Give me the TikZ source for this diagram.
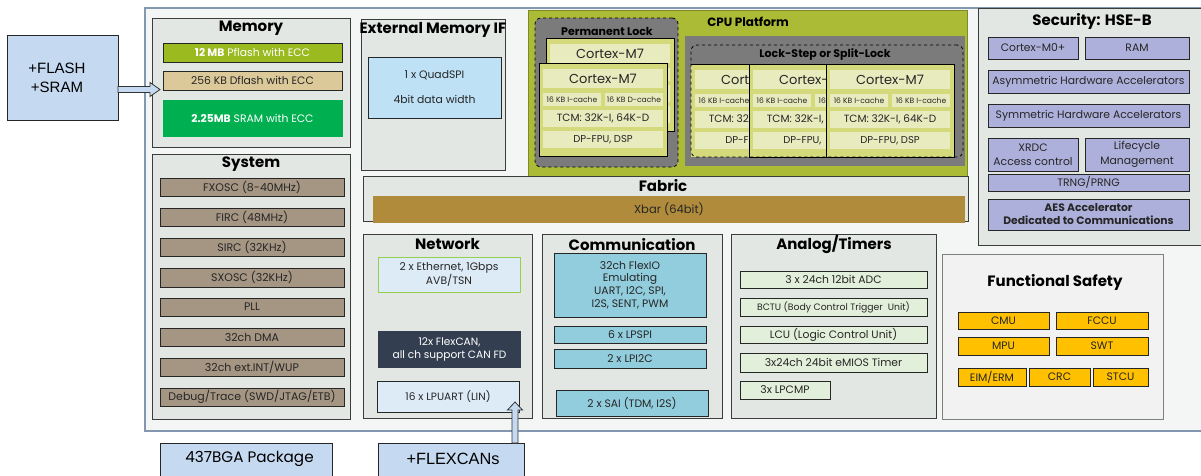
\documentclass[tikz,border=0pt]{standalone}
\usepackage{fontspec}
\setmainfont{Poppins}
\newfontfamily\arialf{Liberation Sans}
\usetikzlibrary{calc}
\definecolor{outerline}{HTML}{8497B0}
\definecolor{outerfill}{HTML}{F4F6F5}
\definecolor{secfill}{HTML}{E3E7E4}
\definecolor{secline}{HTML}{3C3C3C}
\definecolor{txt}{HTML}{262626}
\definecolor{pkg}{HTML}{C5D9F1}
\definecolor{pflash}{HTML}{9BBA1F}
\definecolor{dflash}{HTML}{DCC999}
\definecolor{sramc}{HTML}{00B050}
\definecolor{sysc}{HTML}{A59583}
\definecolor{qspic}{HTML}{BEE1F6}
\definecolor{cpuc}{HTML}{ACBB36}
\definecolor{cpuline}{HTML}{7E8A26}
\definecolor{grp}{HTML}{7B7B7B}
\definecolor{cardc}{HTML}{D4DA7C}
\definecolor{bandc}{HTML}{E8EBBD}
\definecolor{xbarc}{HTML}{AF8B3B}
\definecolor{lblue}{HTML}{DDEBF7}
\definecolor{ethline}{HTML}{92D050}
\definecolor{canc}{HTML}{333F50}
\definecolor{commc}{HTML}{92CDDD}
\definecolor{anac}{HTML}{E2EFDA}
\definecolor{fsfill}{HTML}{F2F2F2}
\definecolor{fsline}{HTML}{7F7F7F}
\definecolor{amber}{HTML}{FFC000}
\definecolor{lav}{HTML}{ADB0DB}
\newcommand\fs[2]{\fontsize{#1}{#2}\selectfont}
\newcommand\cut[2]{\rlap{#1}\phantom{#2}}
\newcommand\bx[7]{\node[bxbase,#6,minimum width={(#4)-(#2)},minimum height={(#5)-(#3)}] (#1) at ({((#2)+(#4))/2},{((#3)+(#5))/2}) {#7};}
% name, x, y, card style, cortex, cache1, cache2, tcm, dp
\newcommand\card[9]{%
\bx{#1}{#2}{#3}{(#2)+128}{(#3)+93}{fill=cardc,#4}{}
\bx{#1a}{(#2)+4}{(#3)+6}{(#2)+124}{(#3)+25}{band,font=\fs{13}{14}}{#5}
\bx{#1b}{(#2)+4}{(#3)+30}{(#2)+62}{(#3)+43}{band,font=\fs{7.6}{8}}{#6}
\bx{#1c}{(#2)+66}{(#3)+30}{(#2)+124}{(#3)+43}{band,font=\fs{7.6}{8}}{#7}
\bx{#1d}{(#2)+4}{(#3)+47}{(#2)+124}{(#3)+64}{band,font=\fs{10.5}{11}}{#8}
\bx{#1e}{(#2)+4}{(#3)+68}{(#2)+124}{(#3)+85}{band,font=\fs{10}{11}}{#9}
}
\begin{document}
\begin{tikzpicture}[x=1pt,y=-1pt,
  bxbase/.style={inner sep=0pt,outer sep=0pt,align=center,text=txt,font=\fs{10.8}{13}},
  sec/.style={draw=secline,fill=secfill,line width=1pt},
  itm/.style={draw=black!85,line width=0.9pt},
  sysi/.style={itm,fill=sysc,font=\fs{11}{13}},
  band/.style={fill=bandc,draw=none},
  ttl/.style={inner sep=0pt,text=black,font=\bfseries\fs{15}{17}},
  blk/.style={fill=pkg,draw=black!80,line width=0.8pt,line join=miter}]
\clip (0,0) rectangle (1201,475);
\fill[white] (0,0) rectangle (1201,475);
% chip outline
\bx{chip}{145}{8}{1215}{431}{draw=outerline,fill=outerfill,line width=1.6pt}{}
% external boxes
\bx{flash}{7}{35}{118}{120}{itm,fill=pkg}{}
\node[inner sep=0pt,align=center,font=\arialf\fs{15}{19}] (flasht) at (57,78) {+FLASH\\+SRAM};
\bx{bga}{160}{443}{332}{490}{itm,fill=pkg}{}
\node[inner sep=0pt,font=\fs{15.2}{17}] (bgat) at (249.5,459) {437BGA Package};
\bx{fcan}{378}{443}{524}{490}{itm,fill=pkg}{}
\node[inner sep=0pt,font=\arialf\fs{16.3}{18}] (fcant) at (453,459) {+FLEXCANs};
% Memory
\bx{mem}{152}{18}{350}{147}{sec}{}
\node[ttl] (memt) at (251,28) {Memory};
\bx{pfl}{163}{43}{342}{62}{itm,fill=pflash,text=white}{\textbf{12 MB} Pflash with ECC}
\bx{dfl}{163}{71}{342}{90}{itm,fill=dflash}{256 KB Dflash with ECC}
\bx{sram}{163}{100}{342}{136}{draw=sramc,fill=sramc,text=white}{\textbf{2.25MB} SRAM with ECC}
% System
\bx{sys}{152}{154}{350}{419}{sec}{}
\node[ttl] (syst) at (251,164) {System};
\bx{s1}{160}{178}{344}{196}{sysi}{FXOSC (8-40MHz)}
\bx{s2}{160}{208}{344}{226}{sysi}{FIRC (48MHz)}
\bx{s3}{160}{238}{344}{256}{sysi}{SIRC (32KHz)}
\bx{s4}{160}{268}{344}{287}{sysi}{SXOSC (32KHz)}
\bx{s5}{160}{298}{344}{316}{sysi}{PLL}
\bx{s6}{160}{328}{344}{346}{sysi}{32ch DMA}
\bx{s7}{160}{358}{344}{376}{sysi}{32ch ext.INT/WUP}
\bx{s8}{160}{388}{344}{406}{sysi}{Debug/Trace (SWD/JTAG/ETB)}
% External memory IF
\bx{emif}{361}{19}{505}{170}{sec}{}
\node[ttl] (emift) at (433,30) {External Memory IF};
\bx{qspi}{368}{57}{501}{118}{itm,fill=qspic,font=\fs{10.8}{25}}{1 x QuadSPI\\4bit data width}
% CPU platform
\bx{cpu}{528}{10}{967}{176}{draw=cpuline,fill=cpuc,line width=0.6pt}{}
\node[ttl,font=\bfseries\fs{12}{14}] (cput) at (748,22) {CPU Platform};
\bx{perm}{535}{18}{678}{167}{draw=black,dashed,fill=grp,rounded corners=6pt,line width=0.8pt}{}
\node[ttl,font=\bfseries\fs{11}{13}] (permt) at (607,31) {Permanent Lock};
\card{pb}{546}{38}{draw=black,line width=0.9pt}{Cortex-M7}{}{}{}{}
\card{pf}{539}{63}{draw=black,line width=0.9pt}{Cortex-M7}{16 KB I-cache}{16 KB D-cache}{TCM: 32K-I,\ 64K-D}{DP-FPU,\ DSP}
\bx{ls}{685}{36}{965}{166}{fill=grp}{}
\begin{scope}
\clip (690,60) rectangle (749,160);
\card{ca}{691}{64}{draw=none}{\cut{Cort}{Cortex-M7}}{16 KB I-cache}{}{\cut{TCM: 32}{TCM: 32K-I,\ 64K-D}}{\cut{DP-FP}{DP-FPU,\ DSP}}
\draw[line width=0.9pt] (ca.north west) -- (ca.north east);
\end{scope}
\begin{scope}
\clip (748,60) rectangle (826,160);
\card{cb}{749}{64}{draw=black,line width=0.9pt}{\cut{Cortex-}{Cortex-M7}}{16 KB I-cache}{\cut{16}{16 KB I-cache}}{\cut{TCM: 32K-I,}{TCM: 32K-I,\ 64K-D}}{\cut{DP-FPU,}{DP-FPU,\ DSP}}
\end{scope}
\card{cc}{826}{64}{draw=black,line width=0.9pt}{Cortex-M7}{16 KB I-cache}{16 KB I-cache}{TCM: 32K-I,\ 64K-D}{DP-FPU,\ DSP}
\bx{lsd}{691}{45}{963}{157}{draw=black,dashed,rounded corners=6pt,line width=0.8pt}{}
\node[ttl,font=\bfseries\fs{11}{13}] (lst) at (825,55) {Lock-Step or Split-Lock};
% Fabric
\bx{fab}{363}{176}{968}{221}{sec}{}
\node[ttl] (fabt) at (663,186) {Fabric};
\bx{xbar}{373}{196}{965}{223}{fill=xbarc,font=\fs{11.5}{13}}{Xbar (64bit)}
% Network
\bx{net}{363}{234}{532}{418}{sec}{}
\node[ttl] (nett) at (447.5,244) {Network};
\bx{eth}{378}{257}{520}{292}{itm,draw=ethline,fill=lblue,font=\fs{10.8}{14}}{2 x Ethernet, 1Gbps\\AVB/TSN}
\bx{can}{378}{331}{521}{368}{fill=canc,text=white,font=\fs{10.6}{13}}{12x FlexCAN,\\all ch support CAN FD}
\bx{uart}{377}{381}{519}{412}{itm,fill=lblue,font=\fs{10.6}{12}}{16 x LPUART (LIN)}
% Communication
\bx{com}{542}{234}{722}{418}{sec}{}
\node[ttl] (comt) at (632,245) {Communication};
\bx{fio}{554}{253}{706}{317}{itm,fill=commc,font=\fs{10.8}{12.7}}{32ch FlexIO\\Emulating\\UART, I2C, SPI,\\I2S, SENT, PWM}
\bx{spi}{554}{326}{706}{343}{itm,fill=commc}{6 x LPSPI}
\bx{i2c}{554}{349}{706}{368}{itm,fill=commc}{2 x LPI2C}
\bx{sai}{556}{390}{708}{416}{itm,fill=commc}{2 x SAI (TDM, I2S)}
% Analog/Timers
\bx{ana}{731}{234}{936}{418}{sec}{}
\node[ttl] (anat) at (834,244) {Analog/Timers};
\bx{adc}{740}{271}{927}{288}{itm,fill=anac}{3 x 24ch 12bit ADC}
\bx{bctu}{740}{298}{927}{316}{itm,fill=anac,font=\fs{9.3}{10}}{BCTU (Body Control Trigger\ \ Unit)}
\bx{lcu}{740}{326}{927}{343}{itm,fill=anac}{LCU (Logic Control Unit)}
\bx{emios}{740}{353}{927}{372}{itm,fill=anac}{3x24ch 24bit eMIOS Timer}
\bx{cmp}{740}{381}{830}{399}{itm,fill=anac}{3x LPCMP}
% Functional safety
\bx{fsb}{942}{254}{1163}{419}{draw=fsline,fill=fsfill,line width=1pt}{}
\node[ttl] (fst) at (1055,282) {Functional Safety};
\bx{cmu}{958}{312}{1049}{329}{itm,fill=amber}{CMU}
\bx{fccu}{1056}{312}{1148}{329}{itm,fill=amber}{FCCU}
\bx{mpu}{958}{337}{1049}{355}{itm,fill=amber}{MPU}
\bx{swt}{1056}{337}{1148}{355}{itm,fill=amber}{SWT}
\bx{eim}{958}{368}{1026}{386}{itm,fill=amber}{EIM/ERM}
\bx{crc}{1029}{368}{1090}{386}{itm,fill=amber}{CRC}
\bx{stcu}{1093}{368}{1148}{386}{itm,fill=amber}{STCU}
% Security
\bx{hse}{978}{8}{1212}{245}{sec}{}
\node[ttl] (hset) at (1092,21) {Security: HSE-B};
\bx{m0}{988}{37}{1078}{59}{itm,fill=lav}{Cortex-M0+}
\bx{ram}{1085}{37}{1189}{59}{itm,fill=lav}{RAM}
\bx{asym}{988}{70}{1189}{93}{itm,fill=lav}{Asymmetric Hardware Accelerators}
\bx{sym}{988}{104}{1189}{127}{itm,fill=lav}{Symmetric Hardware Accelerators}
\bx{xrdc}{988}{138}{1078}{171}{itm,fill=lav,font=\fs{10.8}{14.5}}{XRDC\\Access control}
\bx{life}{1085}{138}{1189}{171}{itm,fill=lav,font=\fs{10.8}{14.5}}{Lifecycle\\Management}
\bx{trng}{988}{174}{1189}{191}{itm,fill=lav}{TRNG/PRNG}
\bx{aes}{988}{199}{1189}{230}{itm,fill=lav,font=\bfseries\fs{10.8}{13}}{AES Accelerator\\Dedicated to Communications}
% block arrows
\coordinate (memin) at ($(mem.west)+(8,7)$);
\coordinate (fa) at (flash.east |- memin);
\draw[blk] ($(fa)+(0,-3)$) -- ++(32,0) -- ++(0,-4) -- (memin) -- ++(-10,7) -- ++(0,-4) -- ($(fa)+(0,3)$) -- cycle;
\coordinate (uartin) at ($(uart.south east)+(-4,-10)$);
\coordinate (fb) at (fcan.north -| uartin);
\draw[blk] ($(fb)+(-3,0)$) -- ++(0,-33) -- ++(-4.5,0) -- (uartin) -- ++(7.5,8) -- ++(-4.5,0) -- ($(fb)+(3,0)$) -- cycle;
\end{tikzpicture}
\end{document}
